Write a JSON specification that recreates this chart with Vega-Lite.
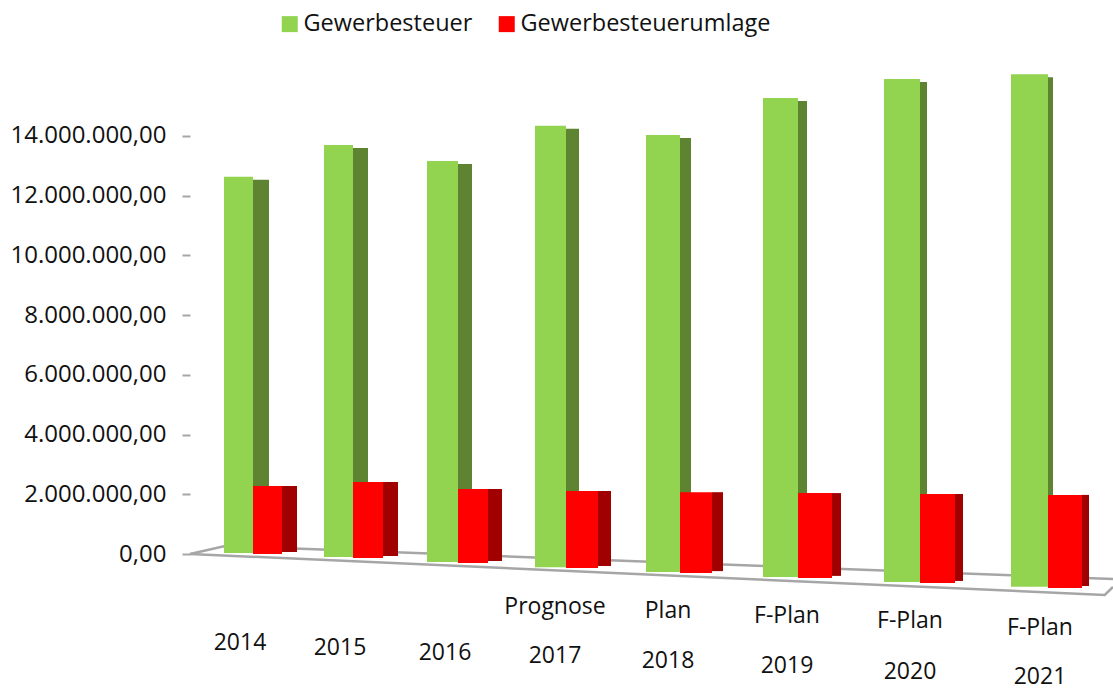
{"$schema":"https://vega.github.io/schema/vega-lite/v6.json","width":1113,"height":689,"padding":0,"autosize":{"type":"none"},"background":"white","config":{"view":{"stroke":null},"font":"Open Sans"},
"datasets":{
"bars":[
{"year":2014,"series":"Gewerbesteuer","value":12630000,"base":30000},{"year":2015,"series":"Gewerbesteuer","value":13700000,"base":-100000},{"year":2016,"series":"Gewerbesteuer","value":13160000,"base":-270000},{"year":2017,"series":"Gewerbesteuer","value":14340000,"base":-440000},{"year":2018,"series":"Gewerbesteuer","value":14030000,"base":-600000},{"year":2019,"series":"Gewerbesteuer","value":15270000,"base":-770000},{"year":2020,"series":"Gewerbesteuer","value":15910000,"base":-940000},{"year":2021,"series":"Gewerbesteuer","value":16070000,"base":-1100000},
{"year":2014,"series":"Gewerbesteuerumlage","value":2280000,"base":0},{"year":2015,"series":"Gewerbesteuerumlage","value":2410000,"base":-130000},{"year":2016,"series":"Gewerbesteuerumlage","value":2180000,"base":-300000},{"year":2017,"series":"Gewerbesteuerumlage","value":2110000,"base":-470000},{"year":2018,"series":"Gewerbesteuerumlage","value":2070000,"base":-640000},{"year":2019,"series":"Gewerbesteuerumlage","value":2040000,"base":-800000},{"year":2020,"series":"Gewerbesteuerumlage","value":2010000,"base":-970000},{"year":2021,"series":"Gewerbesteuerumlage","value":1980000,"base":-1140000}],
"years":[{"year":2014,"status":""},{"year":2015,"status":""},{"year":2016,"status":""},{"year":2017,"status":"Prognose"},{"year":2018,"status":"Plan"},{"year":2019,"status":"F-Plan"},{"year":2020,"status":"F-Plan"},{"year":2021,"status":"F-Plan"}],
"floor":[{"edge":"front","pos":0,"v":0},{"edge":"front","pos":99.1,"v":-1373000},{"edge":"front","pos":100,"v":-1105000},{"edge":"back","pos":0,"v":0},{"edge":"back","pos":3.8,"v":268000},{"edge":"back","pos":100,"v":-840000}]},
"resolve":{"scale":{"x":"independent","y":"independent","size":"independent"},"axis":{"x":"independent","y":"independent"}},
"layer":[
{"data":{"name":"floor"},"mark":{"type":"line","color":"#A6A6A6","strokeWidth":2.5},"encoding":{"x":{"field":"pos","type":"quantitative","axis":null,"scale":{"domain":[0,100],"range":[190,1113]}},"y":{"field":"v","type":"quantitative","axis":null,"scale":{"domain":[-4521000,18553000],"nice":false,"zero":false}},"detail":{"field":"edge"},"order":{"field":"pos"}}},
{"data":{"name":"bars"},"transform":[{"filter":"datum.series==='Gewerbesteuer'"}],"mark":{"type":"bar","orient":"vertical","color":"#5E8432","yOffset":3},"encoding":{"x":{"field":"year","type":"quantitative","axis":null,"scale":{"padding":0,"domain":[2014,2015,2016,2017,2018,2019,2020,2021],"range":[261,360.5,465,572.5,685.5,802.5,923.5,1050.5]}},"size":{"field":"year","type":"quantitative","legend":null,"scale":{"domain":[2014,2015,2016,2017,2018,2019,2020,2021],"range":[16,15,14,13,11,9,7,5]}},"y":{"field":"value","type":"quantitative","axis":null,"scale":{"domain":[-4521000,18553000],"nice":false,"zero":false}},"y2":{"field":"base"}}},
{"data":{"name":"bars"},"transform":[{"filter":"datum.series==='Gewerbesteuer'"}],"mark":{"type":"bar","orient":"vertical"},"encoding":{"x":{"field":"year","type":"quantitative","axis":null,"scale":{"padding":0,"domain":[2014,2015,2016,2017,2018,2019,2020,2021],"range":[238.5,338.5,442.5,550.5,663,780.5,902,1029.5]}},"size":{"field":"year","type":"quantitative","legend":null,"scale":{"domain":[2014,2015,2016,2017,2018,2019,2020,2021],"range":[29,29,31,31,34,35,36,37]}},"y":{"field":"value","type":"quantitative","axis":{"values":[0,2000000,4000000,6000000,8000000,10000000,12000000,14000000],"offset":-190,"domain":false,"grid":false,"tickColor":"#A6A6A6","tickSize":8,"tickWidth":2,"labelFontSize":24,"labelColor":"#111111","labelPadding":16,"labelFont":"Open Sans","title":null,"labelExpr":"replace(replace(replace(format(datum.value,',.2f'),/,/g,'X'),'.',','),/X/g,'.')"},"scale":{"domain":[-4521000,18553000],"nice":false,"zero":false}},"y2":{"field":"base"},"color":{"field":"series","type":"nominal","scale":{"domain":["Gewerbesteuer","Gewerbesteuerumlage"],"range":["#92D350","#FF0000"]},"legend":{"title":null,"orient":"none","legendX":278,"legendY":12,"direction":"horizontal","symbolType":"square","symbolSize":256,"symbolStrokeWidth":0,"symbolOpacity":1,"labelFontSize":23.5,"labelFont":"Open Sans","labelColor":"#111111","labelLimit":400,"columnPadding":22,"labelOffset":2}}}},
{"data":{"name":"bars"},"transform":[{"filter":"datum.series==='Gewerbesteuerumlage'"}],"mark":{"type":"bar","orient":"vertical","color":"#A00000","yOffset":0,"y2Offset":-2},"encoding":{"x":{"field":"year","type":"quantitative","axis":null,"scale":{"padding":0,"domain":[2014,2015,2016,2017,2018,2019,2020,2021],"range":[289.5,390.5,495,604.5,717.5,836.5,959,1085.5]}},"size":{"field":"year","type":"quantitative","legend":null,"scale":{"domain":[2014,2015,2016,2017,2018,2019,2020,2021],"range":[15,15,14,13,11,9,8,7]}},"y":{"field":"value","type":"quantitative","axis":null,"scale":{"domain":[-4521000,18553000],"nice":false,"zero":false}},"y2":{"field":"base"}}},
{"data":{"name":"bars"},"transform":[{"filter":"datum.series==='Gewerbesteuerumlage'"}],"mark":{"type":"bar","orient":"vertical"},"encoding":{"x":{"field":"year","type":"quantitative","axis":null,"scale":{"padding":0,"domain":[2014,2015,2016,2017,2018,2019,2020,2021],"range":[267.5,368,473,582,696,815,937.5,1065]}},"size":{"field":"year","type":"quantitative","legend":null,"scale":{"domain":[2014,2015,2016,2017,2018,2019,2020,2021],"range":[29,30,30,32,32,34,35,34]}},"y":{"field":"value","type":"quantitative","axis":null,"scale":{"domain":[-4521000,18553000],"nice":false,"zero":false}},"y2":{"field":"base"},"color":{"field":"series","type":"nominal","scale":{"domain":["Gewerbesteuer","Gewerbesteuerumlage"],"range":["#92D350","#FF0000"]}}}},
{"mark":{"type":"rule","color":"#A6A6A6","strokeWidth":2},"encoding":{"x":{"value":190},"y":{"datum":0,"type":"quantitative","axis":null,"scale":{"domain":[-4521000,18553000],"nice":false,"zero":false}},"y2":{"datum":15040000}}},
{"data":{"name":"years"},"mark":{"type":"text","fontSize":23,"font":"Open Sans","color":"#111111"},"encoding":{"text":{"field":"year","type":"quantitative","format":"d"},"x":{"field":"year","type":"quantitative","axis":null,"scale":{"domain":[2014,2015,2016,2017,2018,2019,2020,2021],"range":[240,340,445,555,668,787,910,1040]}},"y":{"field":"year","type":"quantitative","axis":null,"scale":{"domain":[2014,2015,2016,2017,2018,2019,2020,2021],"range":[643,648,653,656,661,666,672,677]}}}},
{"data":{"name":"years"},"transform":[{"filter":"datum.status!==''"}],"mark":{"type":"text","fontSize":23,"font":"Open Sans","color":"#111111"},"encoding":{"text":{"field":"status","type":"nominal"},"x":{"field":"year","type":"quantitative","axis":null,"scale":{"domain":[2017,2018,2019,2020,2021],"range":[555,668,787,910,1040]}},"y":{"field":"year","type":"quantitative","axis":null,"scale":{"domain":[2017,2018,2019,2020,2021],"range":[607,611,616,621,628]}}}}
]}
